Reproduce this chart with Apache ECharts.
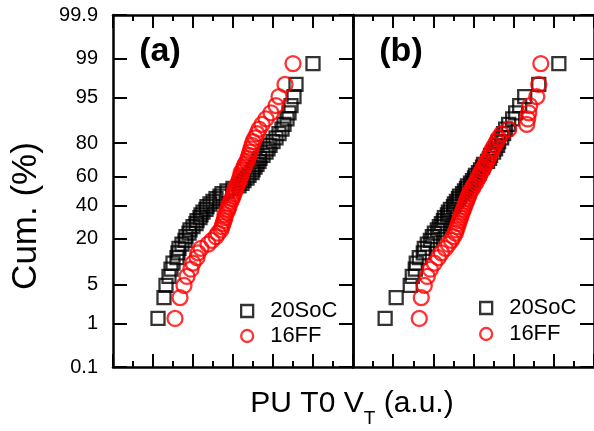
<!DOCTYPE html>
<html>
<head>
<meta charset="utf-8">
<script src="https://cdn.jsdelivr.net/npm/echarts@6/dist/echarts.min.js"></script>
<style>
  html, body { margin: 0; padding: 0; background: #fff; }
  #chart { width: 594px; height: 431px; }
</style>
</head>
<body>
<div id="chart"></div>
<script>
// Pull-up T0 threshold voltage readings (a.u.), sorted ascending, 55 devices each.
const vtA_20SoC = [2.25, 2.55, 2.65, 2.8, 2.9, 3.0, 3.2, 3.25, 3.3, 3.45, 3.6, 3.65, 3.8, 3.85, 4.0,
  4.15, 4.2, 4.35, 4.4, 4.5, 4.65, 4.7, 4.85, 5.0, 5.15, 5.35, 5.45, 5.7, 6.0, 6.3, 6.45, 6.55,
  6.7, 6.8, 6.95, 7.0, 7.1, 7.2, 7.3, 7.35, 7.5, 7.65, 7.75, 7.85, 8.0, 8.15, 8.3, 8.45, 8.55,
  8.7, 8.8, 8.9, 9.05, 9.15, 10.0];
const vtA_16FF = [3.1, 3.35, 3.55, 3.7, 3.9, 4.0, 4.2, 4.25, 4.4, 4.75, 4.95, 5.15, 5.25, 5.4, 5.45,
  5.5, 5.55, 5.6, 5.6, 5.7, 5.75, 5.8, 5.8, 5.9, 5.95, 6.0, 6.05, 6.1, 6.1, 6.2, 6.25, 6.3, 6.35,
  6.4, 6.4, 6.5, 6.55, 6.6, 6.7, 6.75, 6.8, 6.85, 6.9, 6.95, 7.0, 7.1, 7.2, 7.3, 7.45, 7.65, 7.9,
  8.15, 8.3, 8.6, 9.0];
const vtB_20SoC = [1.6, 2.15, 2.85, 2.95, 3.1, 3.15, 3.3, 3.5, 3.55, 3.7, 3.85, 3.95, 4.05, 4.2, 4.3,
  4.4, 4.5, 4.55, 4.7, 4.75, 4.85, 5.0, 5.05, 5.15, 5.25, 5.3, 5.45, 5.55, 5.65, 5.7, 5.85, 5.95,
  6.05, 6.1, 6.25, 6.35, 6.45, 6.5, 6.7, 6.8, 6.85, 7.0, 7.1, 7.2, 7.25, 7.4, 7.5, 7.6, 7.75, 7.95,
  8.1, 8.3, 8.55, 9.25, 10.25];
const vtB_16FF = [3.3, 3.4, 3.55, 3.7, 3.85, 4.05, 4.25, 4.4, 4.6, 4.75, 4.9, 5.0, 5.1, 5.15, 5.2,
  5.25, 5.3, 5.35, 5.4, 5.45, 5.5, 5.55, 5.6, 5.65, 5.7, 5.75, 5.8, 5.85, 5.95, 6.0, 6.1, 6.15,
  6.25, 6.3, 6.35, 6.45, 6.5, 6.6, 6.65, 6.75, 6.8, 6.9, 6.95, 7.05, 7.15, 7.25, 7.4, 7.75, 8.65,
  8.7, 8.75, 8.8, 9.15, 9.25, 9.35];

// Cumulative probability axis ticks (%)
const cumTicks = [0.1, 1, 5, 20, 40, 60, 80, 95, 99, 99.9];
const cumTickLabels = ['0.1', '1', '5', '20', '40', '60', '80', '95', '99', '99.9'];
const seriesNames = ['20SoC', '16FF'];
const panelTags = ['(a)', '(b)'];

// Inverse standard normal CDF (Acklam) -> probit scale for the y axis
function probit(p) {
  const a = [-3.969683028665376e+01, 2.209460984245205e+02, -2.759285104469687e+02,
             1.383577518672690e+02, -3.066479806614716e+01, 2.506628277459239e+00];
  const b = [-5.447609879822406e+01, 1.615858368580409e+02, -1.556989798598866e+02,
             6.680131188771972e+01, -1.328068155288572e+01];
  const c = [-7.784894002430293e-03, -3.223964580411365e-01, -2.400758277161838e+00,
             -2.549732539343734e+00, 4.374664141464968e+00, 2.938163982698783e+00];
  const d = [7.784695709041462e-03, 3.224671290700398e-01, 2.445134137142996e+00,
             3.754408661907416e+00];
  const plow = 0.02425, phigh = 1 - plow;
  let q, r;
  if (p < plow) {
    q = Math.sqrt(-2 * Math.log(p));
    return (((((c[0]*q+c[1])*q+c[2])*q+c[3])*q+c[4])*q+c[5]) / ((((d[0]*q+d[1])*q+d[2])*q+d[3])*q+1);
  }
  if (p <= phigh) {
    q = p - 0.5; r = q * q;
    return (((((a[0]*r+a[1])*r+a[2])*r+a[3])*r+a[4])*r+a[5])*q / (((((b[0]*r+b[1])*r+b[2])*r+b[3])*r+b[4])*r+1);
  }
  q = Math.sqrt(-2 * Math.log(1 - p));
  return -(((((c[0]*q+c[1])*q+c[2])*q+c[3])*q+c[4])*q+c[5]) / ((((d[0]*q+d[1])*q+d[2])*q+d[3])*q+1);
}

// Median-rank plotting position for each sorted reading
function cumPoints(vals) {
  const n = vals.length;
  return vals.map((v, i) => [v, probit((i + 1 - 0.3) / (n + 0.4))]);
}

const tickZ = cumTicks.map(t => probit(t / 100));
const zMin = tickZ[0], zMax = tickZ[tickZ.length - 1];
const FONT = 'Liberation Sans, Arial, sans-serif';
const AXIS_W = 2.5, TICK_W = 2;

function xAxisCfg(gridIndex, position) {
  return {
    type: 'value', gridIndex, position, min: 0, max: 12, interval: 2,
    axisLine: { show: true, onZero: false, lineStyle: { color: '#000', width: AXIS_W } },
    axisTick: { show: true, inside: true, length: 13, lineStyle: { color: '#000', width: TICK_W } },
    minorTick: { show: true, splitNumber: 2, length: 6, lineStyle: { color: '#000', width: TICK_W } },
    axisLabel: { show: false },
    splitLine: { show: false }, minorSplitLine: { show: false }
  };
}

function yAxisCfg(gridIndex, position, withTicks, withLabels) {
  return {
    type: 'value', gridIndex, position, min: zMin, max: zMax,
    axisLine: { show: true, onZero: false, lineStyle: { color: '#000', width: AXIS_W } },
    axisTick: { show: withTicks, inside: true, length: 14, customValues: tickZ,
                lineStyle: { color: '#000', width: TICK_W } },
    axisLabel: {
      show: withLabels, customValues: tickZ, margin: 15,
      showMinLabel: true, showMaxLabel: true,
      color: '#000', fontSize: 20, fontFamily: FONT,
      formatter: (v) => {
        let best = 0;
        tickZ.forEach((z, i) => { if (Math.abs(z - v) < Math.abs(tickZ[best] - v)) best = i; });
        return cumTickLabels[best];
      }
    },
    splitLine: { show: false }
  };
}

function scatter(name, xi, yi, vals) {
  const isSq = name === seriesNames[0];
  return {
    name, type: 'scatter', xAxisIndex: xi, yAxisIndex: yi,
    symbol: isSq ? 'rect' : 'circle',
    symbolSize: isSq ? 13 : 15,
    itemStyle: { color: 'rgba(0,0,0,0)', borderColor: isSq ? '#000' : '#ff0000', borderWidth: 2.3 },
    emphasis: { disabled: true },
    data: cumPoints(vals)
  };
}

function legendCfg(name, left, top) {
  return {
    data: [name], left, top, padding: 0, orient: 'vertical',
    itemWidth: 12, itemHeight: 12, selectedMode: false,
    itemStyle: { borderWidth: 2.3 },
    textStyle: { fontSize: 22, fontFamily: FONT, color: '#000', padding: [0, 0, 0, 12] }
  };
}

const chart = echarts.init(document.getElementById('chart'), null, { renderer: 'canvas' });
chart.setOption({
  animation: false,
  backgroundColor: '#fff',
  grid: [
    { left: 113, right: 241, top: 15, bottom: 64 },
    { left: 353, right: -1, top: 15, bottom: 64 }
  ],
  xAxis: [xAxisCfg(0, 'bottom'), xAxisCfg(0, 'top'), xAxisCfg(1, 'bottom'), xAxisCfg(1, 'top')],
  yAxis: [yAxisCfg(0, 'left', true, true), yAxisCfg(0, 'right', true, false),
          yAxisCfg(1, 'left', false, false), yAxisCfg(1, 'right', true, false)],
  legend: [
    legendCfg(seriesNames[0], 240, 300), legendCfg(seriesNames[1], 240, 325),
    legendCfg(seriesNames[0], 479, 297), legendCfg(seriesNames[1], 479, 323)
  ],
  series: [
    scatter(seriesNames[0], 0, 0, vtA_20SoC),
    scatter(seriesNames[1], 0, 0, vtA_16FF),
    scatter(seriesNames[0], 2, 2, vtB_20SoC),
    scatter(seriesNames[1], 2, 2, vtB_16FF)
  ],
  graphic: [
    { type: 'text', x: 160, y: 52, style: { text: panelTags[0], font: 'bold 34px ' + FONT, fill: '#000', align: 'center', verticalAlign: 'middle' } },
    { type: 'text', x: 401, y: 52, style: { text: panelTags[1], font: 'bold 34px ' + FONT, fill: '#000', align: 'center', verticalAlign: 'middle' } },
    { type: 'text', x: 26, y: 216, rotation: Math.PI / 2,
      style: { text: 'Cum. (%)', font: '35px ' + FONT, fill: '#000', align: 'center', verticalAlign: 'middle' } },
    { type: 'text', x: 352, y: 404,
      style: { text: 'PU T0 V{s|T} (a.u.)', fontSize: 30, fontFamily: FONT, fill: '#000', align: 'center', verticalAlign: 'middle',
               rich: { s: { fontSize: 19, fontFamily: FONT, fill: '#000', padding: [30, 0, 0, 0] } } } }
  ]
});
</script>
</body>
</html>
